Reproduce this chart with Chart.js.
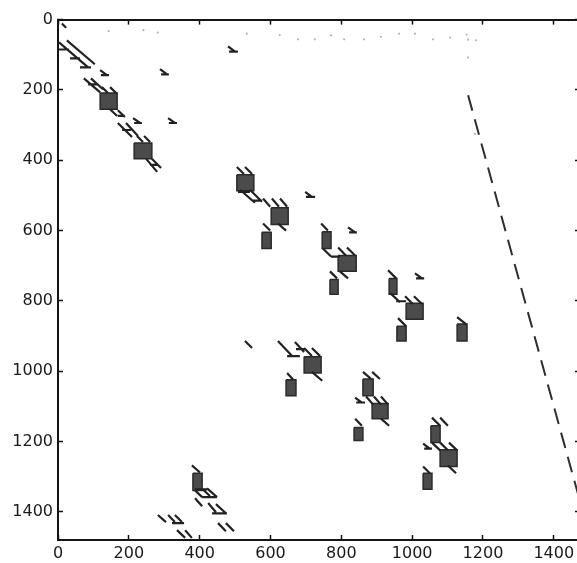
<!DOCTYPE html>
<html><head><meta charset="utf-8">
<script src="https://cdn.jsdelivr.net/npm/chart.js@4"></script>
<style>
html,body{margin:0;padding:0;background:#fff;overflow:hidden;width:577px;height:563px}
#wrap{position:absolute;left:0;top:0;width:590px;height:563px}
</style>
</head><body><div id="wrap"><canvas id="c" width="590" height="563"></canvas></div>
<script>
// ---- data (matrix column x, row y) ----
const tickValues = [0, 200, 400, 600, 800, 1000, 1200, 1400];
const xRange = [0, 1474];
const yRange = [0, 1480];

// dense blocks: [colStart, colEnd, rowStart, rowEnd]
const blocks = [
  [119,167,209,255],[215,265,351,396],[505,553,441,487],[602,650,535,583],
  [576,602,605,651],[746,771,603,651],[791,842,671,716],[768,791,739,781],
  [935,957,736,781],[983,1031,807,852],[957,983,872,914],[1127,1155,866,914],
  [695,743,959,1005],[644,672,1024,1070],[861,890,1022,1070],[887,932,1092,1135],
  [836,861,1160,1197],[1053,1079,1155,1203],[1079,1127,1223,1271],[1031,1056,1290,1336],
  [381,407,1290,1339]
];

// sparse runs of nonzeros: [col1,row1,col2,row2]
const strokes = [
  [11,11,23,23],
  [3,65,85,136],[25,59,104,127],[3,85,31,85],[34,110,62,110],[62,136,93,136],
  [119,144,138,158],[121,158,144,158],
  [288,141,308,156],[291,156,313,156],
  [73,167,119,207],[93,167,127,198],[85,184,110,184],
  [124,192,141,209],[147,192,164,209],
  [147,255,167,274],[169,258,189,277],[169,274,189,274],
  [169,294,209,334],[192,294,226,331],[181,314,206,314],
  [212,280,232,294],[215,294,237,294],
  [311,280,330,294],[313,294,336,294],
  [223,331,240,348],[243,331,260,348],
  [249,396,280,433],[265,396,291,422],[260,413,282,413],
  [480,76,500,91],[483,91,508,91],
  [505,419,525,439],[528,419,548,439],
  [514,484,556,521],[542,484,576,518],[508,490,542,490],[548,515,576,515],
  [579,509,599,532],[604,509,624,532],[627,509,647,532],
  [621,580,644,600],[579,580,599,600],
  [698,490,717,504],[700,504,726,504],
  [819,591,839,605],[822,605,844,605],
  [743,580,762,600],
  [748,651,771,674],[771,674,796,674],
  [791,648,813,671],[816,648,839,671],
  [768,716,788,736],[796,716,819,736],
  [932,713,955,736],
  [1008,722,1028,736],[1011,736,1034,736],
  [938,778,966,804],[955,801,983,801],
  [980,787,1002,809],[1005,787,1028,809],
  [960,849,983,872],
  [1127,846,1152,866],
  [528,914,548,934],
  [621,914,661,957],[669,917,695,945],[647,957,683,957],[695,934,717,957],[717,934,740,957],[672,937,700,937],
  [717,1002,746,1027],
  [647,1005,664,1024],
  [861,1002,884,1022],[887,1002,909,1022],
  [839,1075,858,1089],[842,1089,867,1089],
  [870,1072,890,1095],[892,1072,912,1095],[912,1072,932,1095],
  [912,1135,935,1155],
  [839,1135,858,1155],
  [1056,1132,1079,1155],[1079,1132,1101,1155],
  [1031,1206,1050,1220],[1034,1220,1056,1220],
  [1056,1203,1079,1225],[1079,1203,1101,1225],[1104,1203,1127,1225],
  [1101,1268,1124,1290],
  [1031,1271,1050,1290],
  [378,1268,401,1288],
  [387,1336,421,1336],[409,1336,429,1355],[387,1339,407,1358],[407,1358,449,1358],[421,1333,449,1358],
  [387,1361,407,1384],
  [424,1375,446,1401],[435,1404,477,1404],[446,1378,474,1404],
  [282,1409,305,1429],[311,1409,330,1429],[330,1409,350,1429],[322,1432,356,1432],
  [336,1452,359,1474],[359,1452,378,1474],
  [452,1432,474,1455],[474,1432,497,1455]
];

// long sparse off-diagonal (drawn dashed)
const farDiagonal = [[1158,215],[1468,1348]];

// faint isolated entries near the first rows
const faintDots = [
  [143,33],[241,30],[282,37],[533,40],[626,44],[678,56],[725,56],[771,45],[808,56],
  [864,56],[912,49],[963,40],[1008,40],[1059,56],[1107,51],[1154,43],[1158,57],[1180,59],
  [1158,108],[1178,325]
];

// ---- build datasets ----
const strokeData = [];
strokes.forEach(s => {
  strokeData.push({x:s[0], y:s[1]}, {x:s[2], y:s[3]}, {x:null, y:null});
});

const datasets = [];
datasets.push({
  data: strokeData, borderColor:'#222', borderWidth:2.2, pointRadius:0,
  spanGaps:false, fill:false, borderCapStyle:'butt', tension:0
});
datasets.push({
  data: farDiagonal.map(p => ({x:p[0], y:p[1]})), borderColor:'#2e2e2e', borderWidth:2,
  borderDash:[16,9], pointRadius:0, fill:false, tension:0
});
datasets.push({
  data: faintDots.map(p => ({x:p[0], y:p[1]})), showLine:false, pointRadius:1.1,
  pointBackgroundColor:'#b5b5b5', pointBorderWidth:0, fill:false
});
blocks.forEach(b => {
  datasets.push({
    data: [{x:b[0],y:b[2]},{x:b[1],y:b[2]},{x:b[1],y:b[3]},{x:b[0],y:b[3]},{x:b[0],y:b[2]}],
    borderColor:'#2a2a2a', borderWidth:1.5, backgroundColor:'#4b4b4b',
    fill:'shape', pointRadius:0, tension:0
  });
});

const setTicks = s => { s.ticks = tickValues.map(v => ({value:v})); };
const plain = v => String(v);
const axisCommon = {
  type:'linear',
  grid:{display:true, drawOnChartArea:false, drawTicks:true, tickLength:-5, color:'#111', tickColor:'#111', tickWidth:1.5},
  border:{display:true, color:'#151515', width:2},
  afterBuildTicks: setTicks
};
const font = {family:'"DejaVu Sans", sans-serif', size:16};

new Chart(document.getElementById('c'), {
  type:'line',
  data:{datasets},
  options:{
    responsive:false, animation:false, events:[],
    layout:{padding:{left:0, top:17, right:10, bottom:0}},
    plugins:{legend:{display:false}, tooltip:{enabled:false}},
    scales:{
      x:Object.assign({}, axisCommon, {
        position:'bottom', min:xRange[0], max:xRange[1],
        ticks:{font, color:'#1a1a1a', padding:9, maxRotation:0, autoSkip:false, callback:plain},
        afterFit:s => { s.height = 23; }
      }),
      x2:Object.assign({}, axisCommon, {
        position:'top', min:xRange[0], max:xRange[1],
        ticks:{display:false},
        afterFit:s => { s.height = 0; }
      }),
      y:Object.assign({}, axisCommon, {
        position:'left', reverse:true, min:yRange[0], max:yRange[1],
        ticks:{font, color:'#1a1a1a', padding:10, autoSkip:false, callback:plain},
        afterFit:s => { s.width = 58; }
      }),
      y2:Object.assign({}, axisCommon, {
        position:'right', reverse:true, min:yRange[0], max:yRange[1],
        ticks:{display:false},
        afterFit:s => { s.width = 0; }
      })
    }
  }
});
</script></body></html>
